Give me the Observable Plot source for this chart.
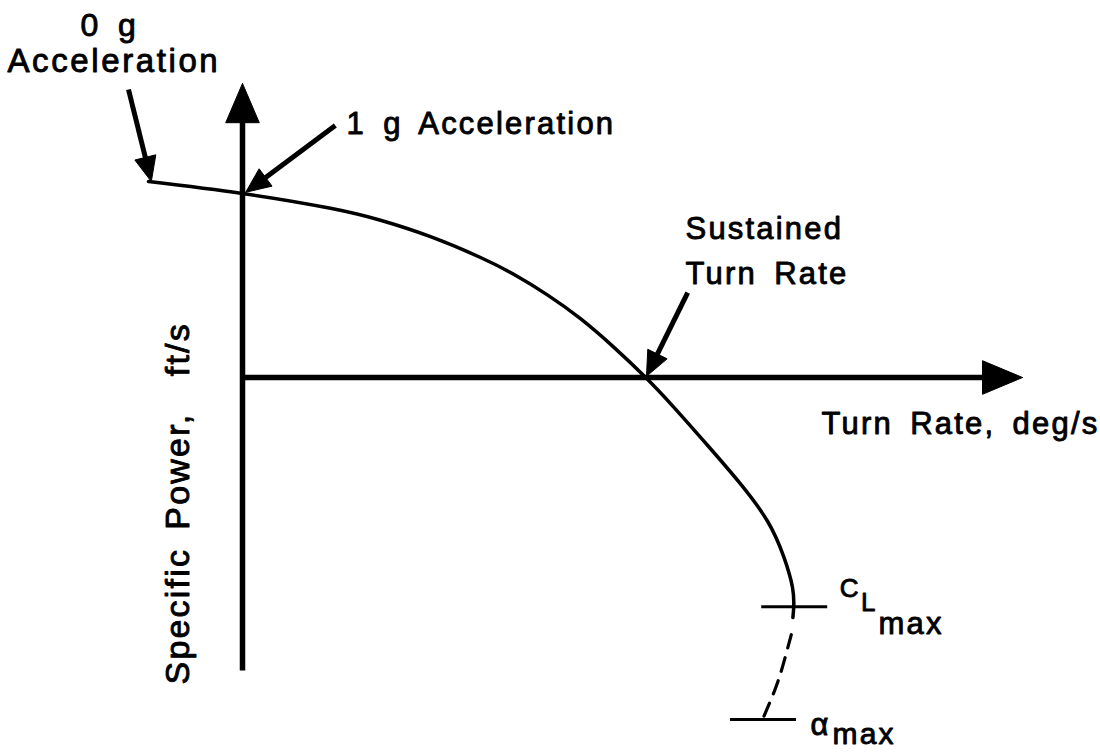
<!DOCTYPE html>
<html>
<head>
<meta charset="utf-8">
<script src="https://cdn.jsdelivr.net/npm/d3@7"></script>
<script src="https://cdn.jsdelivr.net/npm/@observablehq/plot@0.6"></script>
<style>
  html, body { margin: 0; padding: 0; background: #fff; }
  #chart svg { display: block; background: #fff; }
  #chart svg text { letter-spacing: 2.2px; word-spacing: 6.5px; }
</style>
</head>
<body>
<div id="chart"></div>
<script>
// Turn performance: specific excess power against turn rate (schematic units)
const turnRate      = [-2.35, 0, 2.2, 3.45, 4.7, 5.95, 6.78, 7.63, 8.45, 9.28, 10.08, 10.78, 11.63, 12.45, 13.13, 13.53, 13.75, 13.78, 13.76];
const specificPower = [4.9, 4.6, 4.23, 3.93, 3.52, 3.0, 2.58, 2.06, 1.47, 0.76, 0, -0.74, -1.7, -2.66, -3.6, -4.48, -5.25, -5.75, -6.0];

// Past CLmax, up to the angle-of-attack limit (dashed)
const postStallTurnRate = [13.72, 13.58, 13.35, 13.0];
const postStallPower    = [-6.43, -6.95, -7.7, -8.55];

// Limits marked across the curve
const limitSymbols  = ["C", "α"];
const limitTurnRate = [13.78, 13.0];
const limitPower    = [-5.73, -8.55];

// Points called out on the curve (index into the series above)
const calloutNames = ["0 g", "1 g Acceleration", "Sustained"];
const calloutIndex = [0, 1, 10];

// Axis titles
const axisTitles = ["Turn Rate, deg/s", "Specific Power,  ft/s"];

const FONT = "Liberation Sans, Arial, Helvetica, sans-serif";
const W = 1100, H = 755, UNIT = 40; // pixels per unit, same on both axes
const X0 = 242, Y0 = 377;           // where the axes cross

const curve = turnRate.map((x, i) => ({x, y: specificPower[i]}));
const postStall = postStallTurnRate.map((x, i) => ({x, y: postStallPower[i]}));
const limits = limitTurnRate.map((x, i) => ({x, y: limitPower[i], sym: limitSymbols[i]}));

// Filled triangular arrowhead from a tail toward a tip, in data units
function head(id, tail, tip, len, half) {
  const dx = tip[0] - tail[0], dy = tip[1] - tail[1];
  const L = Math.hypot(dx, dy), ux = dx / L, uy = dy / L;
  const bx = tip[0] - ux * len, by = tip[1] - uy * len;
  return [
    {id, x: tip[0], y: tip[1]},
    {id, x: bx - uy * half, y: by + ux * half},
    {id, x: bx + uy * half, y: by - ux * half},
    {id, x: tip[0], y: tip[1]}
  ];
}
function shaftEnd(tail, tip, back) {
  const dx = tip[0] - tail[0], dy = tip[1] - tail[1];
  const L = Math.hypot(dx, dy);
  return [tip[0] - dx / L * back, tip[1] - dy / L * back];
}

// Axes with arrowheads
const yTop = 7.35, yBottom = -7.325, xRight = 19.5;
const axes = [
  {tail: [0, yBottom], tip: [0, yTop], len: 0.98, half: 0.42},
  {tail: [0, 0], tip: [xRight, 0], len: 1.0, half: 0.42}
];

// Callout arrows: tails offset from the pointed-at curve points
const tailOffsets = [[-0.5, 2.3], [2.32, 1.7], [1.05, 2.12]];
const tipOffsets  = [[0.07, 0], [0.08, 0.03], [0.02, 0.03]];
const callouts = calloutIndex.map((k, i) => {
  const tip = [curve[k].x + tipOffsets[i][0], curve[k].y + tipOffsets[i][1]];
  const tail = [curve[k].x + tailOffsets[i][0], curve[k].y + tailOffsets[i][1]];
  return {tail, tip, len: 0.62, half: 0.27};
});

const arrows = [...axes.map((a, i) => ({...a, id: "axis" + i, w: 5.5})),
                ...callouts.map((a, i) => ({...a, id: "note" + i, w: 5}))];
const shafts = arrows.map(a => {
  const end = shaftEnd(a.tail, a.tip, a.len * 0.7);
  return {x1: a.tail[0], y1: a.tail[1], x2: end[0], y2: end[1], w: a.w};
});
const heads = arrows.flatMap(a => head(a.id, a.tail, a.tip, a.len, a.half));

const px = p => (p - X0) / UNIT;      // horizontal pixel offset -> data
const py = p => (Y0 - p) / UNIT;      // vertical pixel offset -> data

const textStyle = {fontFamily: FONT, fill: "black", stroke: "black", strokeWidth: 0.9, lineAnchor: "bottom", textAnchor: "start"};

const labels = [
  {x: px(80),  y: py(35),  text: calloutNames[0], size: 32},
  {x: px(7),   y: py(71),  text: "Acceleration", size: 33, ls: 2.6},
  {x: px(346), y: py(133), text: calloutNames[1], size: 31},
  {x: px(685), y: py(238), text: calloutNames[2], size: 31},
  {x: px(685), y: py(283), text: "Turn Rate", size: 31},
  {x: px(821), y: py(433), text: axisTitles[0], size: 31}
];

// Limit names: symbol, subscript and "max", placed beside each tick bar
const [cl, am] = limits;
const limitText = [
  {x: cl.x + 1.15, y: cl.y + 0.24, text: "C", size: 26},
  {x: cl.x + 1.68, y: cl.y - 0.1,  text: "L", size: 26},
  {x: cl.x + 2.12, y: cl.y - 0.67, text: "max", size: 31},
  {x: am.x + 1.2,  y: am.y - 0.38, text: "α", size: 31},
  {x: am.x + 1.75, y: am.y - 0.62, text: "max", size: 30}
];

const plot = Plot.plot({
  width: W,
  height: H,
  margin: 0,
  x: {domain: [-X0 / UNIT, (W - X0) / UNIT], axis: null},
  y: {domain: [-(H - Y0) / UNIT, Y0 / UNIT], axis: null},
  style: {background: "#fff", fontFamily: FONT},
  marks: [
    // axis and callout shafts
    Plot.link(shafts, {x1: "x1", y1: "y1", x2: "x2", y2: "y2", stroke: "black", strokeWidth: d => d.w, strokeLinecap: "butt"}),
    // filled arrowheads
    Plot.line(heads, {x: "x", y: "y", z: "id", fill: "black", stroke: "black", strokeWidth: 1, strokeLinejoin: "miter"}),
    // performance curve
    Plot.line(curve, {x: "x", y: "y", curve: "natural", stroke: "black", strokeWidth: 3.5}),
    // dashed continuation to the alpha limit
    Plot.line(postStall, {x: "x", y: "y", curve: "natural", stroke: "black", strokeWidth: 3.2, strokeDasharray: "14,10"}),
    // limit tick bars
    Plot.ruleY(limits, {y: "y", x1: d => d.x - 0.8, x2: d => d.x + 0.85, stroke: "black", strokeWidth: 3}),
    // labels
    Plot.text(labels.filter(d => !d.ls), {x: "x", y: "y", text: "text", fontSize: d => d.size, ...textStyle}),
    Plot.text(labels.filter(d => d.ls), {x: "x", y: "y", text: "text", fontSize: d => d.size, ...textStyle,
      render(index, scales, values, dims, context, next) {
        const g = next(index, scales, values, dims, context);
        g.querySelectorAll("text").forEach(t => t.style.letterSpacing = "2.6px");
        return g;
      }}),
    Plot.text([axisTitles[1]], {x: px(188), y: py(684), text: d => d, rotate: -90, fontSize: 34, ...textStyle}),
    Plot.text(limitText, {x: "x", y: "y", text: "text", fontSize: d => d.size, ...textStyle})
  ]
});

document.getElementById("chart").appendChild(plot);
</script>
</body>
</html>
